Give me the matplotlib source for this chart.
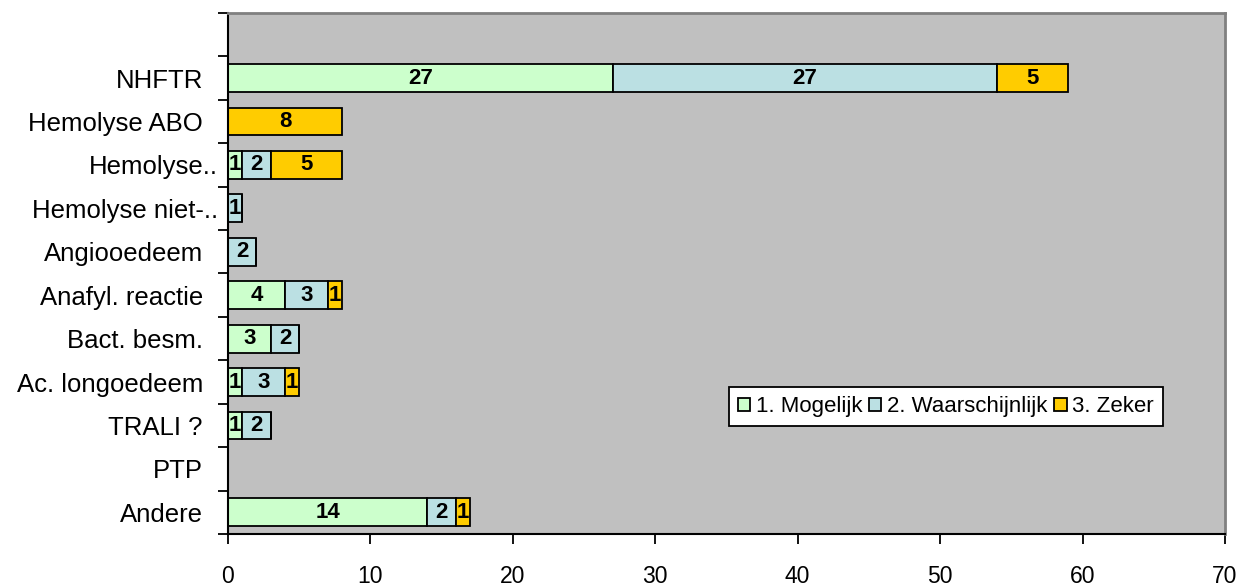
import numpy as np
import matplotlib.pyplot as plt
from matplotlib.transforms import ScaledTranslation

# Reactions per category, split by imputability
categories = ["NHFTR", "Hemolyse ABO", "Hemolyse..", "Hemolyse niet-..",
              "Angiooedeem", "Anafyl. reactie", "Bact. besm.",
              "Ac. longoedeem", "TRALI ?", "PTP", "Andere"]
mogelijk = [27, 0, 1, 0, 0, 4, 3, 1, 1, 0, 14]
waarschijnlijk = [27, 0, 2, 1, 2, 3, 2, 3, 2, 0, 2]
zeker = [5, 8, 5, 0, 0, 1, 0, 1, 0, 0, 1]

series = [
    ("1. Mogelijk", mogelijk, "#CCFFCC"),
    ("2. Waarschijnlijk", waarschijnlijk, "#BBE0E3"),
    ("3. Zeker", zeker, "#FFCC00"),
]

plt.rcParams['font.family'] = ['Liberation Sans', 'DejaVu Sans']

fig = plt.figure(figsize=(12.43, 5.87), dpi=100)
ax = fig.add_axes([0.1834, 0.0903, 0.8021, 0.8876])
ax.set_facecolor("#C0C0C0")

n = len(categories)
y = np.arange(n)[::-1]  # first category at the top
left = np.zeros(n)
for label, vals, color in series:
    vals = np.array(vals, dtype=float)
    bars = ax.barh(y, vals, left=left, height=0.64, color=color,
                   edgecolor="black", linewidth=1.3, label=label)
    for rect, v in zip(bars, vals):
        if v > 0:
            ax.text(rect.get_x() + rect.get_width() / 2,
                    rect.get_y() + rect.get_height() / 2,
                    f"{int(v)}", ha="center", va="center",
                    fontsize=16, fontweight="bold")
    left += vals

ax.set_xlim(0, 70)
ax.set_ylim(-0.5, n + 0.5)  # one empty slot above the first bar
ax.set_xticks(range(0, 71, 10))
ax.set_yticks(y)
ax.set_yticklabels(categories)
ax.set_yticks(np.arange(-0.5, n + 1, 1), minor=True)
ax.tick_params(axis="y", which="major", length=0, pad=18, labelsize=18.5)
ax.tick_params(axis="y", which="minor", length=7, width=1.3, direction="out")
ax.tick_params(axis="x", length=7, width=1.3, pad=15, labelsize=16.5)

# truncated names sit a little closer to the axis
shift = ScaledTranslation(0.15, 0, fig.dpi_scale_trans)
for lbl in ax.get_yticklabels():
    if lbl.get_text().endswith(".."):
        lbl.set_transform(lbl.get_transform() + shift)

for side in ("left", "bottom"):
    ax.spines[side].set_color("black")
    ax.spines[side].set_linewidth(1.5)
for side in ("top", "right"):
    ax.spines[side].set_color("#808080")
    ax.spines[side].set_linewidth(2)

leg = ax.legend(loc="lower left", bbox_to_anchor=(0.5025, 0.207, 0.435, 0.085),
                mode="expand", ncol=3, fontsize=16, frameon=True, fancybox=False,
                edgecolor="black", handlelength=0.55, handleheight=0.55,
                handletextpad=0.25, columnspacing=0.1, borderpad=0.4,
                borderaxespad=0)
leg.get_frame().set_linewidth(1.3)
leg.get_frame().set_facecolor("white")
leg.get_frame().set_alpha(1)

fig.savefig("out.png", dpi=100)
